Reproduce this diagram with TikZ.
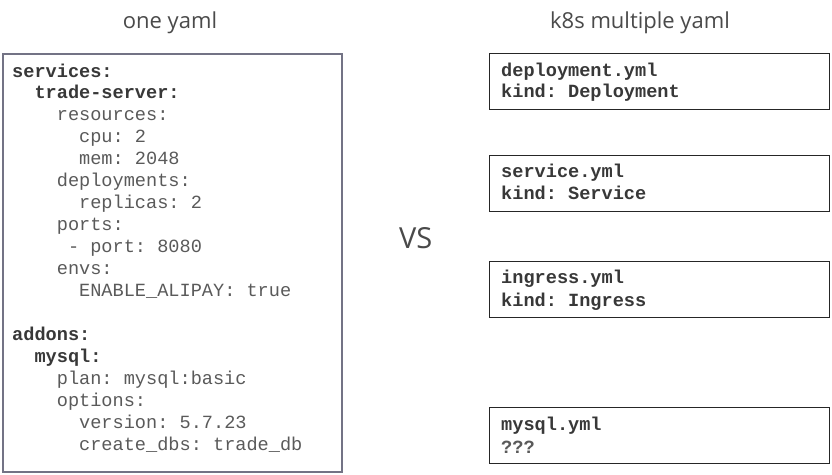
\documentclass[tikz,border=0pt]{standalone}
\usepackage{fontspec}
\setmainfont{Open Sans}
\setmonofont{Liberation Mono}
\definecolor{codegray}{HTML}{5A5A5A}
\definecolor{codedark}{HTML}{383838}
\definecolor{titlegray}{HTML}{4A4A4A}
\definecolor{leftborder}{HTML}{737385}
\begin{document}
\begin{tikzpicture}[x=1pt,y=-1pt,
  codeline/.style={anchor=base west,inner sep=0pt,font=\fontsize{18.6}{20}\ttfamily,text=codegray},
  codebold/.style={codeline,font=\fontsize{18.6}{20}\ttfamily\bfseries,text=codedark},
  title/.style={anchor=base,inner sep=0pt,font=\fontsize{22}{24}\selectfont,text=titlegray},
  filebox/.style={draw=black!85,line width=1.4pt,rectangle,inner sep=0pt,minimum width=340pt,minimum height=56pt,anchor=north west}
]
\useasboundingbox (0,0) rectangle (832,474);
\fill[white] (0,0) rectangle (832,474);
% titles
\node[title] (t1) at (170,28) {one yaml};
\node[title] (t2) at (640,28) {k8s multiple yaml};
\node[anchor=base west,inner sep=0pt,font=\fontsize{29}{32}\selectfont,text=titlegray] (vs) at (399,248) {VS};
% left box
\node[draw=leftborder,line width=1.8pt,rectangle,inner sep=0pt,minimum width=339pt,minimum height=418pt,anchor=north west] (onebox) at (2,53) {};
\def\lp{21.95}
\node[codebold] (l1) at (12,77) {services:};
\node[codebold] (l2) at (12,77+\lp) {\ \ trade-server:};
\node[codeline] (l3) at (12,77+2*\lp) {\ \ \ \ resources:};
\node[codeline] (l4) at (12,77+3*\lp) {\ \ \ \ \ \ cpu: 2};
\node[codeline] (l5) at (12,77+4*\lp) {\ \ \ \ \ \ mem: 2048};
\node[codeline] (l6) at (12,77+5*\lp) {\ \ \ \ deployments:};
\node[codeline] (l7) at (12,77+6*\lp) {\ \ \ \ \ \ replicas: 2};
\node[codeline] (l8) at (12,77+7*\lp) {\ \ \ \ ports:};
\node[codeline] (l9) at (12,77+8*\lp) {\ \ \ \ \ - port: 8080};
\node[codeline] (l10) at (12,77+9*\lp) {\ \ \ \ envs:};
\node[codeline] (l11) at (12,77+10*\lp) {\ \ \ \ \ \ ENABLE\_ALIPAY: true};
\node[codebold] (l12) at (12,77+12*\lp) {addons:};
\node[codebold] (l13) at (12,77+13*\lp) {\ \ mysql:};
\node[codeline] (l14) at (12,77+14*\lp) {\ \ \ \ plan: mysql:basic};
\node[codeline] (l15) at (12,77+15*\lp) {\ \ \ \ options:};
\node[codeline] (l16) at (12,77+16*\lp) {\ \ \ \ \ \ version: 5.7.23};
\node[codeline] (l17) at (12,77+17*\lp) {\ \ \ \ \ \ create\_dbs: trade\_db};
% right boxes
\node[filebox] (b1) at (489,53) {};
\node[codebold] (b1a) at (501,76) {deployment.yml};
\node[codebold] (b1b) at (501,97) {kind: Deployment};
\node[filebox] (b2) at (489,155) {};
\node[codebold] (b2a) at (501,177) {service.yml};
\node[codebold] (b2b) at (501,199) {kind: Service};
\node[filebox] (b3) at (489,261) {};
\node[codebold] (b3a) at (501,283) {ingress.yml};
\node[codebold] (b3b) at (501,306) {kind: Ingress};
\node[filebox] (b4) at (489,407) {};
\node[codebold] (b4a) at (501,430) {mysql.yml};
\node[codeline,font=\fontsize{18.6}{20}\ttfamily\bfseries] (b4b) at (501,453) {???};
\end{tikzpicture}
\end{document}
